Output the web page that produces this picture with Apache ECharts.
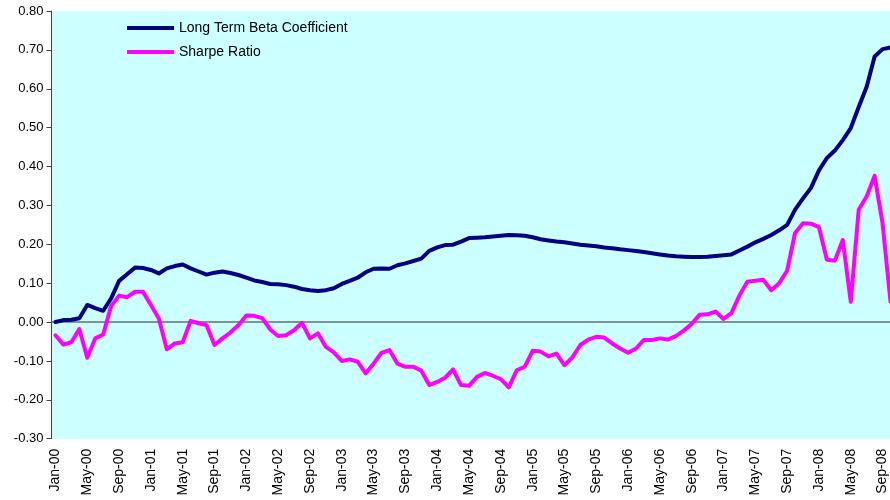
<!DOCTYPE html>
<html>
<head>
<meta charset="utf-8">
<script src="https://cdn.jsdelivr.net/npm/echarts@6/dist/echarts.min.js"></script>
<style>
  html, body { margin: 0; padding: 0; background: #ffffff; overflow: hidden; }
  #chart { width: 896px; height: 500px; }
</style>
</head>
<body>
<div id="chart"></div>
<script>
// Monthly observations, Jan-2000 through Oct-2008
const monthNames = ['Jan', 'Feb', 'Mar', 'Apr', 'May', 'Jun', 'Jul', 'Aug', 'Sep', 'Oct', 'Nov', 'Dec'];
const firstYear = 2000;
const monthCount = 106;

const months = [];
for (let i = 0; i < monthCount; i++) {
  const yy = String((firstYear + Math.floor(i / 12)) % 100).padStart(2, '0');
  months.push(monthNames[i % 12] + '-' + yy);
}

const seriesNames = ['Long Term Beta Coefficient', 'Sharpe Ratio'];

const betaCoefficient = [
  0.000, 0.005, 0.006, 0.010, 0.044, 0.036, 0.029, 0.061, 0.106, 0.123, 0.140, 0.139,
  0.134, 0.125, 0.138, 0.144, 0.148, 0.138, 0.130, 0.122, 0.127, 0.130, 0.126, 0.121,
  0.114, 0.107, 0.103, 0.098, 0.097, 0.095, 0.091, 0.085, 0.082, 0.080, 0.082, 0.087,
  0.098, 0.106, 0.114, 0.128, 0.137, 0.138, 0.137, 0.146, 0.151, 0.157, 0.163, 0.183,
  0.192, 0.198, 0.199, 0.207, 0.216, 0.217, 0.218, 0.220, 0.222, 0.224, 0.223, 0.222,
  0.218, 0.213, 0.210, 0.207, 0.205, 0.202, 0.199, 0.197, 0.195, 0.192, 0.190, 0.187,
  0.185, 0.183, 0.180, 0.177, 0.174, 0.171, 0.169, 0.168, 0.167, 0.167, 0.168, 0.170,
  0.172, 0.174, 0.184, 0.194, 0.205, 0.214, 0.224, 0.236, 0.250, 0.289, 0.318, 0.345,
  0.390, 0.422, 0.441, 0.468, 0.499, 0.553, 0.605, 0.683, 0.702, 0.706
];

const sharpeRatio = [
  -0.034, -0.058, -0.052, -0.018, -0.092, -0.042, -0.032, 0.041, 0.068, 0.064, 0.078, 0.078,
  0.044, 0.009, -0.070, -0.055, -0.052, 0.003, -0.003, -0.008, -0.059, -0.042, -0.027, -0.008,
  0.017, 0.016, 0.010, -0.019, -0.036, -0.034, -0.021, -0.002, -0.042, -0.029, -0.064, -0.078,
  -0.100, -0.096, -0.102, -0.132, -0.107, -0.079, -0.072, -0.107, -0.115, -0.115, -0.125, -0.162,
  -0.154, -0.143, -0.122, -0.162, -0.164, -0.141, -0.131, -0.138, -0.147, -0.168, -0.124, -0.115,
  -0.074, -0.076, -0.088, -0.081, -0.111, -0.091, -0.059, -0.045, -0.038, -0.040, -0.055, -0.068,
  -0.079, -0.068, -0.046, -0.046, -0.042, -0.045, -0.036, -0.022, -0.005, 0.019, 0.020, 0.027,
  0.008, 0.023, 0.068, 0.104, 0.106, 0.109, 0.082, 0.100, 0.132, 0.229, 0.254, 0.253,
  0.244, 0.160, 0.158, 0.211, 0.052, 0.289, 0.323, 0.376, 0.254, 0.052
];

const yMin = -0.3;
const yMax = 0.8;
const yStep = 0.1;

const font = '"Liberation Sans", Arial, sans-serif';

const chart = echarts.init(document.getElementById('chart'), null, { renderer: 'canvas' });

chart.setOption({
  animation: false,
  backgroundColor: '#ffffff',
  grid: {
    left: 51.5,
    right: 1.5,
    top: 11,
    bottom: 61.3,
    show: true,
    backgroundColor: '#ccffff',
    borderWidth: 0
  },
  legend: {
    orient: 'vertical',
    left: 122,
    top: 15,
    itemWidth: 47,
    itemHeight: 4,
    itemGap: 8,
    icon: 'rect',
    data: seriesNames,
    textStyle: { fontFamily: font, fontSize: 14, color: '#000000', lineHeight: 16 }
  },
  xAxis: {
    type: 'category',
    data: months,
    boundaryGap: true,
    axisLine: { show: false, onZero: false },
    axisTick: { show: false },
    splitLine: { show: false },
    axisLabel: {
      interval: 3,
      rotate: 90,
      margin: 10,
      fontFamily: font,
      fontSize: 14,
      color: '#000000'
    }
  },
  yAxis: {
    type: 'value',
    min: yMin,
    max: yMax,
    interval: yStep,
    splitLine: { show: false },
    axisLine: { show: true, lineStyle: { color: '#404040', width: 1 } },
    axisTick: { show: true, inside: false, length: 5, lineStyle: { color: '#404040', width: 1 } },
    axisLabel: {
      margin: 8,
      fontFamily: font,
      fontSize: 13,
      color: '#000000',
      formatter: v => v.toFixed(2)
    }
  },
  series: [
    {
      name: seriesNames[0],
      type: 'line',
      data: betaCoefficient,
      symbol: 'none',
      z: 3,
      lineStyle: { color: '#000080', width: 4, cap: 'round', join: 'round' },
      itemStyle: { color: '#000080' },
      markLine: {
        silent: true,
        symbol: 'none',
        label: { show: false },
        lineStyle: { color: '#5e7272', width: 1.5, type: 'solid' },
        data: [{ yAxis: 0 }],
        z: 1
      }
    },
    {
      name: seriesNames[1],
      type: 'line',
      data: sharpeRatio,
      symbol: 'none',
      z: 4,
      lineStyle: { color: '#ff00ff', width: 4, cap: 'round', join: 'round' },
      itemStyle: { color: '#ff00ff' }
    }
  ]
});
</script>
</body>
</html>
